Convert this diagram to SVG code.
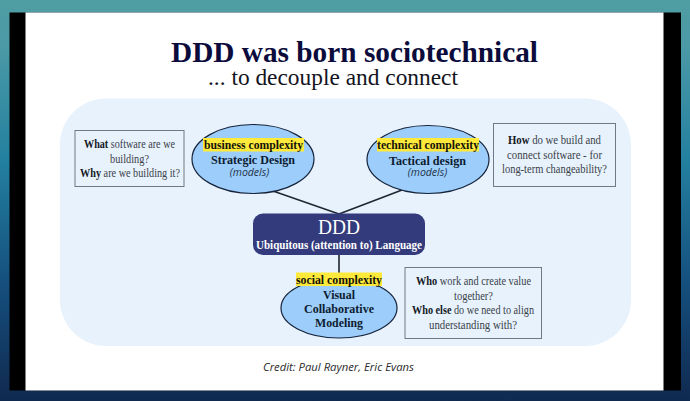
<svg xmlns="http://www.w3.org/2000/svg" width="690" height="401" viewBox="0 0 690 401">
<style>
text{font-family:"Liberation Serif","Times New Roman",serif;text-anchor:middle}
.b{font-weight:700}
.q{font-size:11.500px;fill:#3a4148}
.q tspan{font-weight:700;fill:#14181e}
.h{font-size:12px;font-weight:700;fill:#14140a}
.n{font-size:12.500px;font-weight:700;fill:#0e1c30}
.m{font-family:"Open Sans","Noto Sans",sans-serif;font-style:italic;font-size:10.500px;fill:#22324a}
.el{fill:#9ccdfb;stroke:#15233a;stroke-width:1.2}
.box{fill:none;stroke:#6f7a86;stroke-width:1}
.hl{fill:#ffe93b}
.c{stroke:#1e2730;stroke-width:1.5;fill:none}
</style>
<defs>
<linearGradient id="bg" x1="0" y1="0" x2="0" y2="1">
<stop offset="0" stop-color="#4f9ea3"/>
<stop offset=".12" stop-color="#4a99a6"/>
<stop offset=".4" stop-color="#23809f"/>
<stop offset=".7" stop-color="#15507f"/>
<stop offset="1" stop-color="#10294f"/>
</linearGradient>
</defs>
<rect width="690" height="401" fill="url(#bg)"/>
<rect x="9.500" y="12.500" width="671.500" height="378" fill="#000"/>
<rect x="25.500" y="12.500" width="638" height="378" fill="#fff"/>
<rect x="60" y="98.500" width="571" height="247.500" rx="46" fill="#e7f2fd"/>
<text class="b" x="354.500" y="62" font-size="29.500" fill="#0b0b3c" textLength="367" lengthAdjust="spacingAndGlyphs">DDD was born sociotechnical</text>
<text x="333" y="84.500" font-size="23.500" fill="#14141e" textLength="250" lengthAdjust="spacingAndGlyphs">... to decouple and connect</text>
<g id="connectors">
<line class="c" x1="273" y1="191" x2="339" y2="214"/>
<line class="c" x1="402" y1="190" x2="339" y2="214"/>
<line x1="339" y1="255" x2="339" y2="273" stroke="#4a4f57" stroke-width="2"/>
</g>
<g id="box-what">
<rect class="box" x="75" y="130.500" width="109" height="56"/>
<text class="q" x="129.500" y="147.700" textLength="91" lengthAdjust="spacingAndGlyphs"><tspan>What</tspan> software are we</text>
<text class="q" x="129.500" y="162.500" textLength="39" lengthAdjust="spacingAndGlyphs">building?</text>
<text class="q" x="130" y="176.700" textLength="100" lengthAdjust="spacingAndGlyphs"><tspan>Why</tspan> are we building it?</text>
</g>
<g id="node-strategic">
<ellipse class="el" cx="253" cy="159" rx="61" ry="34.500"/>
<rect class="hl" x="203" y="138" width="101" height="13.500"/>
<text class="h" x="253.500" y="149.300" textLength="99" lengthAdjust="spacingAndGlyphs">business complexity</text>
<text class="n" x="253" y="164" textLength="84" lengthAdjust="spacingAndGlyphs">Strategic Design</text>
<text class="m" x="249.500" y="175.500">(models)</text>
</g>
<g id="node-tactical">
<ellipse class="el" cx="428" cy="159.500" rx="61" ry="34"/>
<rect class="hl" x="377" y="138" width="102" height="13.500"/>
<text class="h" x="428" y="149.300" textLength="102" lengthAdjust="spacingAndGlyphs">technical complexity</text>
<text class="n" x="427.500" y="165" textLength="77" lengthAdjust="spacingAndGlyphs">Tactical design</text>
<text class="m" x="427.500" y="175.500">(models)</text>
</g>
<g id="box-how">
<rect class="box" x="493.500" y="123.500" width="122" height="63"/>
<text class="q" x="554.500" y="144.300" textLength="93" lengthAdjust="spacingAndGlyphs"><tspan>How</tspan> do we build and</text>
<text class="q" x="554.500" y="159" textLength="95" lengthAdjust="spacingAndGlyphs">connect software  - for</text>
<text class="q" x="554.500" y="173.300" textLength="105" lengthAdjust="spacingAndGlyphs">long-term changeability?</text>
</g>
<g id="node-ddd">
<rect x="253" y="213.500" width="172" height="41.500" rx="10" fill="#333b7c"/>
<text x="339" y="233.500" font-size="20" fill="#fff" textLength="42" lengthAdjust="spacingAndGlyphs">DDD</text>
<text class="b" x="339" y="249" font-size="11.500" fill="#fff" textLength="166" lengthAdjust="spacingAndGlyphs">Ubiquitous (attention to) Language</text>
</g>
<g id="node-visual">
<ellipse class="el" cx="339" cy="308" rx="58" ry="30"/>
<rect class="hl" x="296" y="272.500" width="86" height="13.500"/>
<text class="h" x="339" y="283.500" textLength="86" lengthAdjust="spacingAndGlyphs">social complexity</text>
<text class="n" x="339" y="298.700" textLength="32" lengthAdjust="spacingAndGlyphs">Visual</text>
<text class="n" x="339" y="312.700" textLength="70" lengthAdjust="spacingAndGlyphs">Collaborative</text>
<text class="n" x="339" y="326.700" textLength="48" lengthAdjust="spacingAndGlyphs">Modeling</text>
</g>
<g id="box-who">
<rect class="box" x="405" y="267.500" width="136.500" height="71"/>
<text class="q" x="473.500" y="285" textLength="115" lengthAdjust="spacingAndGlyphs"><tspan>Who</tspan> work and create value</text>
<text class="q" x="473.500" y="299.700" textLength="39" lengthAdjust="spacingAndGlyphs">together?</text>
<text class="q" x="473" y="314" textLength="122" lengthAdjust="spacingAndGlyphs"><tspan>Who else</tspan> do we need to align</text>
<text class="q" x="473" y="329" textLength="88" lengthAdjust="spacingAndGlyphs">understanding with?</text>
</g>
<text x="338.500" y="371" textLength="151" lengthAdjust="spacingAndGlyphs" style="font-family:'Open Sans','Noto Sans',sans-serif;font-style:italic;font-size:11.500px;fill:#2a2a2a">Credit: Paul Rayner, Eric Evans</text>
</svg>
